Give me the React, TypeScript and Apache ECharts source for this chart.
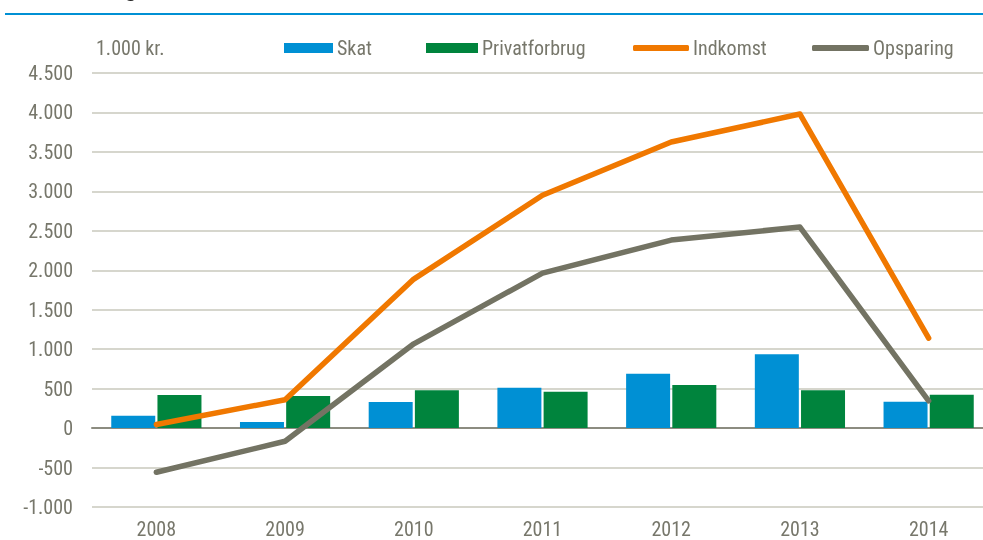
import React, { useEffect, useRef } from "react";
import * as echarts from "echarts";

const years = ["2008", "2009", "2010", "2011", "2012", "2013", "2014"];
const skat = [155, 78, 330, 510, 688, 936, 334];
const privatforbrug = [419, 406, 479, 462, 547, 479, 423];
const indkomst = [45, 360, 1888, 2950, 3625, 3980, 1140];
const opsparing = [-560, -167, 1068, 1964, 2383, 2548, 346];

const FONT = "'Liberation Sans Narrow', 'Arial Narrow', 'Roboto Condensed', 'Liberation Sans', sans-serif";
const TXT = "#77776b";
const C_SKAT = "#0090d4";
const C_PIV = "#00843d";
const C_IND = "#f07800";
const C_OPS = "#737363";
const FS = 20;

export default function App() {
  const ref = useRef<HTMLDivElement>(null);
  useEffect(() => {
    if (!ref.current) return;
    const chart = echarts.init(ref.current, null, { renderer: "svg" });
    const legendBase = {
      top: 38,
      padding: 0,
      itemHeight: 10,
      itemWidth: 49,
      itemGap: 0,
      textStyle: { color: TXT, fontSize: FS, fontFamily: FONT, padding: [0, 0, 0, -1] },
      selectedMode: false,
    };
    chart.setOption({
      animation: false,
      textStyle: { fontFamily: FONT },
      grid: {
        left: 92,
        width: 901,
        top: 73,
        height: 434,
        containLabel: false,
        outerBoundsMode: "none",
      },
      legend: [
        { ...legendBase, left: 284, data: [{ name: "Skat", icon: "rect" }] },
        { ...legendBase, left: 426, itemWidth: 52, data: [{ name: "Privatforbrug", icon: "rect" }] },
        { ...legendBase, left: 633, itemWidth: 56, itemHeight: 6, data: [{ name: "Indkomst", icon: "roundRect" }] },
        { ...legendBase, left: 812, itemWidth: 57, itemHeight: 6, data: [{ name: "Opsparing", icon: "roundRect" }] },
      ],
      graphic: [
        {
          type: "text",
          x: 96,
          y: 48,
          style: { text: "1.000 kr.", fill: TXT, fontSize: FS, fontFamily: FONT, verticalAlign: "middle" },
        },
        {
          type: "rect",
          shape: { x: 5, y: 13, width: 978, height: 2 },
          style: { fill: "#0090d4" },
        },
        {
          type: "text",
          x: 137,
          y: 0,
          style: {
            text: "Udvikling",
            fill: "#222",
            fontSize: 20,
            fontWeight: "bold",
            fontFamily: "'Liberation Sans', sans-serif",
            align: "right",
            verticalAlign: "bottom",
          },
        },
      ],
      xAxis: {
        type: "category",
        data: years,
        axisLine: { show: true, onZero: true, lineStyle: { color: "#8c8c80", width: 2 } },
        axisTick: { show: false },
        axisLabel: { color: TXT, fontSize: FS, fontFamily: FONT, margin: 14, lineHeight: 16 },
        splitLine: { show: false },
      },
      yAxis: {
        type: "value",
        min: -1000,
        max: 4500,
        interval: 500,
        axisLine: { show: false },
        axisTick: { show: false },
        axisLabel: {
          color: TXT,
          fontSize: FS,
          fontFamily: FONT,
          margin: 19,
          formatter: (v: number) => {
            const s = Math.abs(v).toString().replace(/\B(?=(\d{3})+(?!\d))/g, ".");
            return (v < 0 ? "-" : "") + s;
          },
        },
        splitLine: { show: true, lineStyle: { color: "#c9c9bc", width: 1.5 } },
      },
      series: [
        {
          name: "Skat",
          type: "bar",
          data: skat,
          barWidth: 44,
          barGap: "5%",
          itemStyle: { color: C_SKAT },
          z: 2,
        },
        {
          name: "Privatforbrug",
          type: "bar",
          data: privatforbrug,
          barWidth: 44,
          barGap: "5%",
          itemStyle: { color: C_PIV },
          z: 2,
        },
        {
          name: "Indkomst",
          type: "line",
          data: indkomst,
          symbol: "none",
          lineStyle: { color: C_IND, width: 5.5, cap: "round", join: "round" },
          itemStyle: { color: C_IND },
          z: 4,
        },
        {
          name: "Opsparing",
          type: "line",
          data: opsparing,
          symbol: "none",
          lineStyle: { color: C_OPS, width: 5.5, cap: "round", join: "round" },
          itemStyle: { color: C_OPS },
          z: 3,
        },
      ],
    });
    return () => chart.dispose();
  }, []);
  return <div ref={ref} style={{ width: 983, height: 540, position: "fixed", left: 0, top: 0 }} />;
}
